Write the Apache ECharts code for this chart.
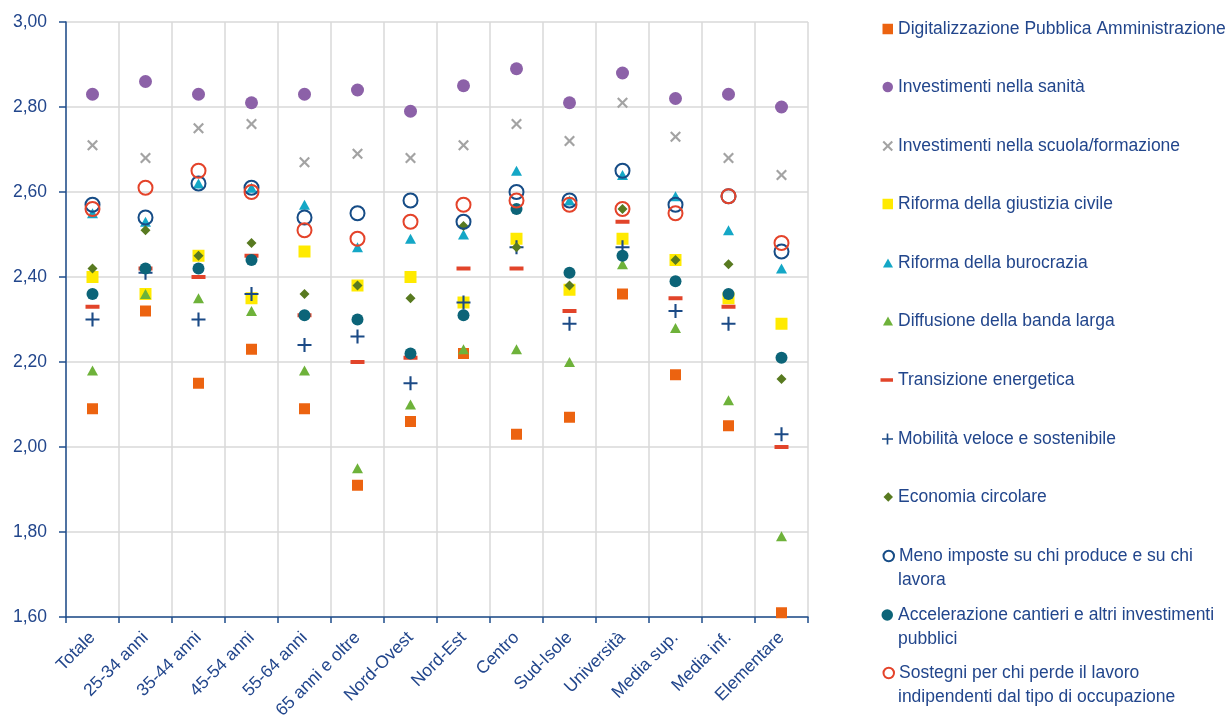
<!DOCTYPE html>
<html>
<head>
<meta charset="utf-8">
<script src="https://cdn.jsdelivr.net/npm/echarts@6/dist/echarts.min.js"></script>
<style>html,body{margin:0;padding:0;background:#fff}#c{width:1228px;height:718px}</style>
</head>
<body>
<div id="c"></div>
<script>
// ---- Data ----
var categories = ['Totale','25-34 anni','35-44 anni','45-54 anni','55-64 anni','65 anni e oltre','Nord-Ovest','Nord-Est','Centro','Sud-Isole','Università','Media sup.','Media inf.','Elementare'];
var yTicks = [1.6, 1.8, 2.0, 2.2, 2.4, 2.6, 2.8, 3.0];

var seriesNames = [
  'Digitalizzazione Pubblica Amministrazione',
  'Investimenti nella sanità',
  'Investimenti nella scuola/formazione',
  'Riforma della giustizia civile',
  'Riforma della burocrazia',
  'Diffusione della banda larga',
  'Transizione energetica',
  'Mobilità veloce e sostenibile',
  'Economia circolare',
  'Meno imposte su chi produce e su chi lavora',
  'Accelerazione cantieri e altri investimenti pubblici',
  'Sostegni per chi perde il lavoro indipendenti dal tipo di occupazione'
];
// legend text split in lines as in the original
var legendLines = [
  ['Digitalizzazione Pubblica Amministrazione'],
  ['Investimenti nella sanità'],
  ['Investimenti nella scuola/formazione'],
  ['Riforma della giustizia civile'],
  ['Riforma della burocrazia'],
  ['Diffusione della banda larga'],
  ['Transizione energetica'],
  ['Mobilità veloce e sostenibile'],
  ['Economia circolare'],
  ['Meno imposte su chi produce e su chi', 'lavora'],
  ['Accelerazione cantieri e altri investimenti', 'pubblici'],
  ['Sostegni per chi perde il lavoro', 'indipendenti dal tipo di occupazione']
];

var digitalizzazione = [2.09, 2.32, 2.15, 2.23, 2.09, 1.91, 2.06, 2.22, 2.03, 2.07, 2.36, 2.17, 2.05, 1.61];
var sanita           = [2.83, 2.86, 2.83, 2.81, 2.83, 2.84, 2.79, 2.85, 2.89, 2.81, 2.88, 2.82, 2.83, 2.80];
var scuola           = [2.71, 2.68, 2.75, 2.76, 2.67, 2.69, 2.68, 2.71, 2.76, 2.72, 2.81, 2.73, 2.68, 2.64];
var giustizia        = [2.40, 2.36, 2.45, 2.35, 2.46, 2.38, 2.40, 2.34, 2.49, 2.37, 2.49, 2.44, 2.35, 2.29];
var burocrazia       = [2.55, 2.53, 2.62, 2.61, 2.57, 2.47, 2.49, 2.50, 2.65, 2.58, 2.64, 2.59, 2.51, 2.42];
var bandaLarga       = [2.18, 2.36, 2.35, 2.32, 2.18, 1.95, 2.10, 2.23, 2.23, 2.20, 2.43, 2.28, 2.11, 1.79];
var transizione      = [2.33, 2.42, 2.40, 2.45, 2.31, 2.20, 2.21, 2.42, 2.42, 2.32, 2.53, 2.35, 2.33, 2.00];
var mobilita         = [2.30, 2.41, 2.30, 2.36, 2.24, 2.26, 2.15, 2.34, 2.47, 2.29, 2.47, 2.32, 2.29, 2.03];
var economia         = [2.42, 2.51, 2.45, 2.48, 2.36, 2.38, 2.35, 2.52, 2.47, 2.38, 2.56, 2.44, 2.43, 2.16];
var menoImposte      = [2.57, 2.54, 2.62, 2.61, 2.54, 2.55, 2.58, 2.53, 2.60, 2.58, 2.65, 2.57, 2.59, 2.46];
var accelerazione    = [2.36, 2.42, 2.42, 2.44, 2.31, 2.30, 2.22, 2.31, 2.56, 2.41, 2.45, 2.39, 2.36, 2.21];
var sostegni         = [2.56, 2.61, 2.65, 2.60, 2.51, 2.49, 2.53, 2.57, 2.58, 2.57, 2.56, 2.55, 2.59, 2.48];

var seriesData = [digitalizzazione, sanita, scuola, giustizia, burocrazia, bandaLarga, transizione, mobilita, economia, menoImposte, accelerazione, sostegni];

// ---- Styles ----
var FONT = '"Liberation Sans", Arial, sans-serif';
var FS = 17.5;
var TEXT = '#22468C';
var AXIS = '#1F4E8C';
var PLUS = 'path://M8.5,0H11.5V8.5H20V11.5H11.5V20H8.5V11.5H0V8.5H8.5Z';
var CROSS = 'path://M2.8,0L10,7.2L17.2,0L20,2.8L12.8,10L20,17.2L17.2,20L10,12.8L2.8,20L0,17.2L7.2,10L0,2.8Z';
var CLEAR = 'rgba(0,0,0,0)';

var styles = [
  {symbol:'rect', size:11, color:'#EC6310', leg:[10.5,10.5]},
  {symbol:'circle', size:13, color:'#8C61A8', leg:[10.5,10.5]},
  {symbol:CROSS, size:11, color:'#A3A3A3', leg:[10.5,10.5]},
  {symbol:'rect', size:12, color:'#FFEA00', leg:[10.5,10.5]},
  {symbol:'triangle', size:[11,10], color:'#14A7C6', leg:[10,9]},
  {symbol:'triangle', size:[11,10], color:'#6EB23A', leg:[10,9]},
  {symbol:'rect', size:[14,4], color:'#E2442A', leg:[12.5,3.5]},
  {symbol:PLUS, size:14, color:'#1B4A86', leg:[11,11]},
  {symbol:'diamond', size:10, color:'#587A20', leg:[9.5,9.5]},
  {symbol:'circle', size:14, color:CLEAR, border:'#164C86', leg:[10.5,10.5]},
  {symbol:'circle', size:12, color:'#0C6478', leg:[11.5,11.5]},
  {symbol:'circle', size:14, color:CLEAR, border:'#E4432A', leg:[10.5,10.5]}
];

var legendCentres = [29, 87, 146, 204, 263, 321, 380, 439, 497, 556, 615, 673];
var LINE_H = 24.5;
var TEXT_X = 898;

var series = seriesNames.map(function(name, i){
  var s = styles[i];
  var item = {color: s.color, opacity: 1};
  if (s.border) { item.borderColor = s.border; item.borderWidth = 2; }
  return {
    name: name,
    type: 'scatter',
    data: seriesData[i],
    symbol: s.symbol,
    symbolSize: s.size,
    itemStyle: item,
    emphasis: {disabled: true},
    z: 2 + i
  };
});

var legends = [];
seriesNames.forEach(function(name, i){
  var lines = legendLines[i];
  var w = styles[i].leg[0], h = styles[i].leg[1];
  lines.forEach(function(line, k){
    var iw = k === 0 ? w : 10;
    var cfg = {
      show: true,
      data: [name],
      orient: 'vertical',
      left: TEXT_X - 5 - iw,
      top: legendCentres[i] + k * LINE_H - 12,
      padding: 0,
      itemWidth: iw,
      itemHeight: k === 0 ? h : 10,
      itemGap: 0,
      selectedMode: false,
      formatter: (function(t){ return function(){ return t; }; })(line),
      textStyle: {color: TEXT, fontSize: FS, fontFamily: FONT, lineHeight: 24}
    };
    if (k === 0 && styles[i].border) { cfg.itemStyle = {borderWidth: 2}; }
    if (k > 0) { cfg.icon = 'none'; cfg.itemStyle = {opacity: 0}; }
    legends.push(cfg);
  });
});

var chart = echarts.init(document.getElementById('c'), null, {renderer:'canvas'});
chart.setOption({
  backgroundColor: '#ffffff',
  animation: false,
  grid: {left: 66, right: 420, top: 22, bottom: 101, containLabel: false, outerBoundsMode: 'none'},
  xAxis: {
    type: 'category',
    data: categories,
    boundaryGap: true,
    axisLine: {lineStyle: {color: AXIS, width: 1.5}},
    axisTick: {show: true, length: 6, lineStyle: {color: AXIS, width: 1.5}},
    splitLine: {show: true, lineStyle: {color: '#D9D9D9', width: 1.5}},
    axisLabel: {rotate: 45, color: TEXT, fontSize: FS, fontFamily: FONT, margin: 18, interval: 0}
  },
  yAxis: {
    type: 'value',
    min: yTicks[0],
    max: yTicks[yTicks.length - 1],
    interval: 0.2,
    axisLine: {show: true, lineStyle: {color: AXIS, width: 1.5}},
    axisTick: {show: true, length: 7, lineStyle: {color: AXIS, width: 1.5}},
    splitLine: {show: true, lineStyle: {color: '#D9D9D9', width: 1.5}},
    axisLabel: {color: TEXT, fontSize: FS, fontFamily: FONT, margin: 19,
      formatter: function(v){ return v.toFixed(2).replace('.', ','); }}
  },
  legend: legends,
  series: series
});
</script>
</body>
</html>
